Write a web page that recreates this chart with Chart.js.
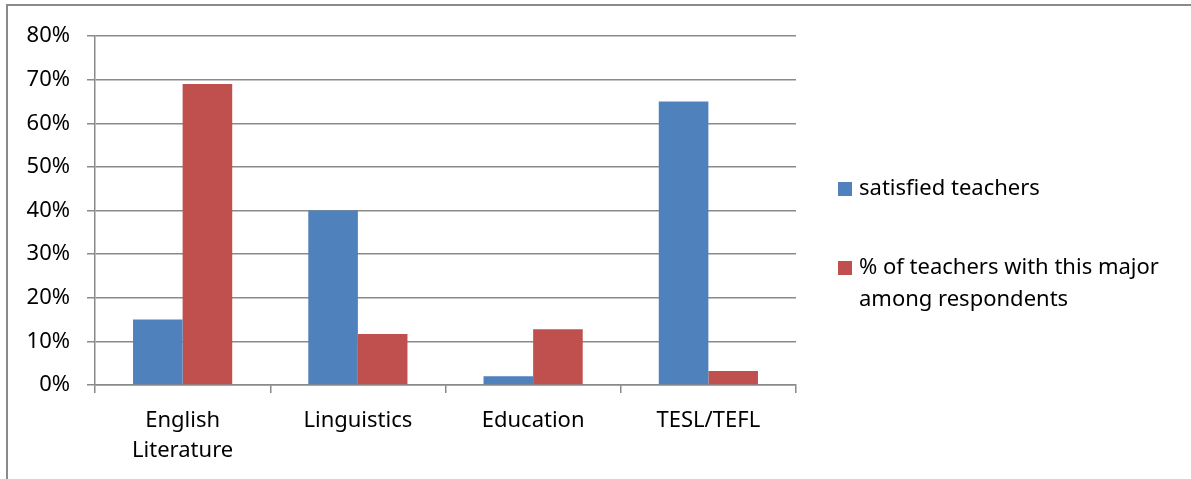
<!DOCTYPE html>
<html lang="en">

<head>
    <meta charset="UTF-8">
    <script src="https://cdn.jsdelivr.net/npm/chart.js"></script>
    <style>
        body {
            margin: 0;
            background: #fff;
            font-family: "Noto Sans", sans-serif;
        }

        .frame {
            position: absolute;
            left: 6px;
            top: 4px;
            width: 1300px;
            height: 600px;
            border-left: 2px solid #8a8a8a;
            border-top: 2px solid #8a8a8a;
        }

        .wrap {
            position: absolute;
            left: 0;
            top: 0;
            width: 1191px;
            height: 479px;
            overflow: hidden;
        }
    </style>
</head>

<body>
    <div class="wrap">
        <div class="frame"></div>
        <canvas id="majorChart" width="1191" height="479"></canvas>
    </div>

    <script>
        const categories = [['English', 'Literature'], 'Linguistics', 'Education', 'TESL/TEFL'];
        const satisfiedTeachers = [15, 40, 2, 65];
        const teachersWithMajor = [69, 11.7, 12.8, 3.2];
        const seriesNames = ['satisfied teachers', '% of teachers with this major among respondents'];
        const yTicks = [0, 10, 20, 30, 40, 50, 60, 70, 80];

        const gridColor = '#8a8a8a';
        const fontSpec = { family: '"Noto Sans", sans-serif', size: 22, lineHeight: 1.4 };

        // legend on the right, with wrapped text like the office chart
        const sideLegend = {
            id: 'sideLegend',
            afterDraw(chart) {
                const ctx = chart.ctx;
                const area = chart.chartArea;
                const boxX = area.right + 42;
                const textX = boxX + 21;
                const maxW = 325;
                const lineH = 32;
                let y = area.top + 153;
                ctx.save();
                ctx.font = '22px "Noto Sans", sans-serif';
                ctx.textBaseline = 'middle';
                ctx.fillStyle = '#000';
                chart.data.datasets.forEach(ds => {
                    const words = ds.label.split(' ');
                    const lines = [];
                    let line = '';
                    words.forEach(w => {
                        const test = line ? line + ' ' + w : w;
                        if (ctx.measureText(test).width > maxW && line) {
                            lines.push(line);
                            line = w;
                        } else {
                            line = test;
                        }
                    });
                    lines.push(line);
                    ctx.fillStyle = ds.backgroundColor;
                    ctx.fillRect(boxX, y - 7, 14, 14);
                    ctx.fillStyle = '#000';
                    lines.forEach((l, i) => ctx.fillText(l, textX, y + i * lineH));
                    y += 79;
                });
                ctx.restore();
            }
        };

        new Chart(document.getElementById('majorChart'), {
            type: 'bar',
            data: {
                labels: categories,
                datasets: [{
                    label: seriesNames[0],
                    data: satisfiedTeachers,
                    backgroundColor: '#4F81BD',
                    borderColor: '#6f9ad0',
                    borderWidth: 0
                }, {
                    label: seriesNames[1],
                    data: teachersWithMajor,
                    backgroundColor: '#C0504D',
                    borderColor: '#d67a77',
                    borderWidth: 0
                }]
            },
            options: {
                responsive: false,
                animation: false,
                devicePixelRatio: 1,
                layout: {
                    padding: { left: 0, top: 36, right: 395, bottom: 0 }
                },
                plugins: {
                    legend: { display: false },
                    tooltip: { enabled: false }
                },
                datasets: {
                    bar: { categoryPercentage: 0.566, barPercentage: 1 }
                },
                scales: {
                    x: {
                        grid: {
                            offset: true,
                            drawOnChartArea: false,
                            color: gridColor,
                            lineWidth: 1.5,
                            tickLength: 8
                        },
                        border: { color: gridColor, width: 1.5 },
                        ticks: {
                            color: '#000',
                            font: fontSpec,
                            padding: 12,
                            maxRotation: 0
                        },
                        afterFit(scale) { scale.height = 94; }
                    },
                    y: {
                        min: 0,
                        max: 80,
                        afterBuildTicks(scale) {
                            scale.ticks = yTicks.map(v => ({ value: v }));
                        },
                        grid: {
                            color: gridColor,
                            lineWidth: 1.5,
                            tickLength: 8
                        },
                        border: { color: gridColor, width: 1.5 },
                        ticks: {
                            color: '#000',
                            font: fontSpec,
                            padding: 17,
                            callback: v => v + '%'
                        },
                        afterFit(scale) { scale.width = 95; }
                    }
                }
            },
            plugins: [sideLegend]
        });
    </script>
</body>

</html>
